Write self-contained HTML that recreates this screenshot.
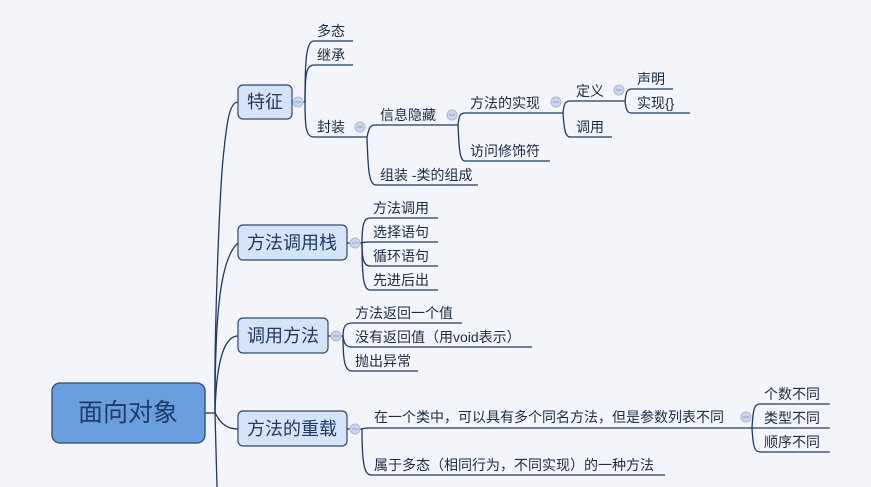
<!DOCTYPE html>
<html><head><meta charset="utf-8"><style>
html,body{margin:0;padding:0;background:#f3f5fa;}
svg{display:block;}
text{font-family:"Liberation Sans","Noto Sans CJK SC",sans-serif;fill:#1a2b45;}
.l{fill:none;stroke:#1f3a60;stroke-width:1.3;}
.t{font-size:18px;fill:#1f3a60;}
.s{font-size:14px;}
.c{fill:#c9d5ec;stroke:#aab9d6;stroke-width:1;}
.m{stroke:#8fa3c6;stroke-width:1;}
</style></head><body>
<svg width="871" height="487" viewBox="0 0 871 487" xmlns="http://www.w3.org/2000/svg">
<rect width="871" height="487" fill="#f3f5fa"/>
<g class="l">
<path d="M205 413 L215 413"/>
<path d="M215 413 C214 330 220 180 224 150 C227 120 230 102 238 102"/>
<path d="M215 413 C215 330 218 260 238 243"/>
<path d="M215 413 C216 370 222 336 238 336"/>
<path d="M215 413 C219 420 224 429 238 429"/>
<path d="M215 413 L217 487"/>
<path d="M292 102 L305 102"/>
<path d="M305 102 C305 60 306 41 314 41 L353 41"/>
<path d="M305 102 C305 75 306 65 314 65 L353 65"/>
<path d="M305 102 C305 128 306 137 314 137 L367 137"/>
<path d="M367 137 C369 128 370 125 375 125 L458 125"/>
<path d="M367 137 C368 170 369 185 376 185 L478 185"/>
<path d="M458 125 C459 116 460 113 465 113 L563 113"/>
<path d="M458 125 C459 150 460 161 465 161 L550 161"/>
<path d="M563 113 C564 104 565 101 570 101 L625 101"/>
<path d="M563 113 C564 128 565 137 570 137 L612 137"/>
<path d="M625 101 C626 92 627 89 632 89 L673 89"/>
<path d="M625 101 C626 110 627 113 632 113 L690 113"/>
<path d="M347 243 L362 243"/>
<path d="M362 243 C362 224 364 218 370 218 L438 218"/>
<path d="M362 243 C363 242 366 242 370 242 L438 242"/>
<path d="M362 243 C362 260 364 266 370 266 L438 266"/>
<path d="M362 243 C362 280 364 290 370 290 L438 290"/>
<path d="M328 336 L343 336"/>
<path d="M343 336 C343 326 346 323 352 323 L462 323"/>
<path d="M343 336 C344 344 346 347 352 347 L532 347"/>
<path d="M343 336 C343 362 345 371 352 371 L418 371"/>
<path d="M347 429 L362 429"/>
<path d="M362 429 C364 428 366 428 370 428 L752 428"/>
<path d="M362 429 C362 462 364 475 371 475 L665 475"/>
<path d="M752 428 C753 410 754 404 760 404 L830 404"/>
<path d="M752 428 L830 428"/>
<path d="M752 428 C753 445 754 452 760 452 L830 452"/>
</g>
<g>
<circle class="c" cx="298" cy="102" r="5"/><line class="m" x1="295" y1="102" x2="301" y2="102"/>
<circle class="c" cx="360" cy="127" r="5"/><line class="m" x1="357" y1="127" x2="363" y2="127"/>
<circle class="c" cx="452" cy="115" r="5"/><line class="m" x1="449" y1="115" x2="455" y2="115"/>
<circle class="c" cx="556" cy="102" r="5"/><line class="m" x1="553" y1="102" x2="559" y2="102"/>
<circle class="c" cx="619" cy="90" r="5"/><line class="m" x1="616" y1="90" x2="622" y2="90"/>
<circle class="c" cx="355" cy="243" r="5"/><line class="m" x1="352" y1="243" x2="358" y2="243"/>
<circle class="c" cx="336" cy="336" r="5"/><line class="m" x1="333" y1="336" x2="339" y2="336"/>
<circle class="c" cx="355" cy="429" r="5"/><line class="m" x1="352" y1="429" x2="358" y2="429"/>
<circle class="c" cx="746" cy="417" r="5"/><line class="m" x1="743" y1="417" x2="749" y2="417"/>
</g>
<rect x="52" y="383" width="153" height="60" rx="8" fill="#6a9fdf" stroke="#2a4a75" stroke-width="1.3"/>
<text x="128" y="421" text-anchor="middle" style="font-size:25px;fill:#1f3d66">面向对象</text>
<rect x="238" y="85" width="54" height="34" rx="5" fill="#d5e3f7" stroke="#2c4a6e" stroke-width="1.2"/>
<text class="t" x="265" y="108" text-anchor="middle">特征</text>
<rect x="238" y="225" width="109" height="35" rx="5" fill="#d5e3f7" stroke="#2c4a6e" stroke-width="1.2"/>
<text class="t" x="292" y="249" text-anchor="middle">方法调用栈</text>
<rect x="238" y="318" width="90" height="35" rx="5" fill="#d5e3f7" stroke="#2c4a6e" stroke-width="1.2"/>
<text class="t" x="283" y="342" text-anchor="middle">调用方法</text>
<rect x="238" y="411" width="109" height="35" rx="5" fill="#d5e3f7" stroke="#2c4a6e" stroke-width="1.2"/>
<text class="t" x="292" y="435" text-anchor="middle">方法的重载</text>
<g>
<text class="s" x="317" y="36">多态</text>
<text class="s" x="317" y="60">继承</text>
<text class="s" x="317" y="132">封装</text>
<text class="s" x="380" y="120">信息隐藏</text>
<text class="s" x="380" y="180">组装 -类的组成</text>
<text class="s" x="470" y="108">方法的实现</text>
<text class="s" x="470" y="156">访问修饰符</text>
<text class="s" x="576" y="96">定义</text>
<text class="s" x="576" y="132">调用</text>
<text class="s" x="637" y="84">声明</text>
<text class="s" x="637" y="108">实现{}</text>
<text class="s" x="373" y="213">方法调用</text>
<text class="s" x="373" y="237">选择语句</text>
<text class="s" x="373" y="261">循环语句</text>
<text class="s" x="373" y="285">先进后出</text>
<text class="s" x="355" y="318">方法返回一个值</text>
<text class="s" x="355" y="342">没有返回值（用void表示）</text>
<text class="s" x="355" y="366">抛出异常</text>
<text class="s" x="374" y="422">在一个类中，可以具有多个同名方法，但是参数列表不同</text>
<text class="s" x="374" y="470">属于多态（相同行为，不同实现）的一种方法</text>
<text class="s" x="764" y="399">个数不同</text>
<text class="s" x="764" y="423">类型不同</text>
<text class="s" x="764" y="447">顺序不同</text>
</g>
</svg>
</body></html>
